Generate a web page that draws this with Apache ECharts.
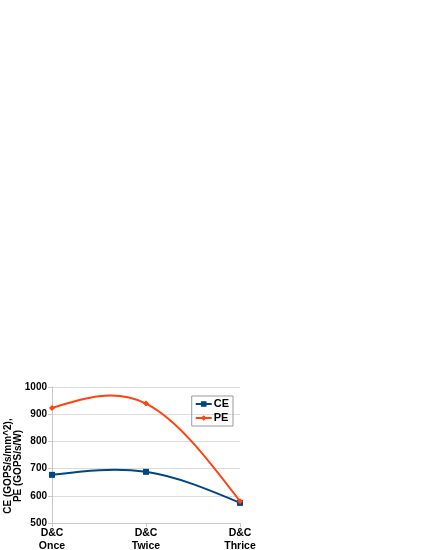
<!DOCTYPE html>
<html>
<head>
<meta charset="utf-8">
<script src="https://cdn.jsdelivr.net/npm/echarts@6/dist/echarts.min.js"></script>
<style>
  html, body { margin: 0; padding: 0; background: #fff; }
  #chart { width: 425px; height: 550px; }
</style>
</head>
<body>
<div id="chart"></div>
<script>
const categories = ["D&C\nOnce", "D&C\nTwice", "D&C\nThrice"]
const ceValues = [677, 688, 574]
const peValues = [923, 939, 580]
const yTicks = { min: 500, max: 1000, interval: 100 }

const font = "Liberation Sans"
const colors = ["#004586", "#ff420e"]

// natural cubic spline through pixel points, returns slope at each point
function splineSlopes(pts) {
  const n = pts.length
  const h = []
  for (let i = 0; i < n - 1; i++) h.push(pts[i + 1][0] - pts[i][0])
  const M = new Array(n).fill(0)
  if (n > 2) {
    // tridiagonal solve for inner second derivatives
    const a = [], b = [], c = [], d = []
    for (let i = 1; i < n - 1; i++) {
      a.push(h[i - 1])
      b.push(2 * (h[i - 1] + h[i]))
      c.push(h[i])
      d.push(6 * ((pts[i + 1][1] - pts[i][1]) / h[i] - (pts[i][1] - pts[i - 1][1]) / h[i - 1]))
    }
    const m = b.length
    for (let i = 1; i < m; i++) {
      const w = a[i] / b[i - 1]
      b[i] -= w * c[i - 1]
      d[i] -= w * d[i - 1]
    }
    const x = new Array(m)
    x[m - 1] = d[m - 1] / b[m - 1]
    for (let i = m - 2; i >= 0; i--) x[i] = (d[i] - c[i] * x[i + 1]) / b[i]
    for (let i = 0; i < m; i++) M[i + 1] = x[i]
  }
  const s = []
  for (let i = 0; i < n; i++) {
    if (i < n - 1) {
      s.push((pts[i + 1][1] - pts[i][1]) / h[i] - h[i] * (2 * M[i] + M[i + 1]) / 6)
    } else {
      s.push((pts[i][1] - pts[i - 1][1]) / h[i - 1] + h[i - 1] * (M[i - 1] + 2 * M[i]) / 6)
    }
  }
  return s
}

function splineSeries(name, values, color) {
  return {
    name: name + " curve",
    type: "custom",
    z: 1,
    silent: true,
    data: values.map((v, i) => [i, v]),
    renderItem(params, api) {
      const i = params.dataIndex
      if (i >= values.length - 1) return null
      const pts = values.map((v, j) => api.coord([j, v]))
      const s = splineSlopes(pts)
      const p0 = pts[i], p1 = pts[i + 1]
      const h = (p1[0] - p0[0]) / 3
      return {
        type: "bezierCurve",
        shape: {
          x1: p0[0], y1: p0[1],
          x2: p1[0], y2: p1[1],
          cpx1: p0[0] + h, cpy1: p0[1] + s[i] * h,
          cpx2: p1[0] - h, cpy2: p1[1] - s[i + 1] * h,
        },
        style: { stroke: color, lineWidth: 2, fill: null },
      }
    },
  }
}

const chart = echarts.init(document.getElementById("chart"))
const option = {
  animation: false,
  color: colors,
  textStyle: { fontFamily: font },
  grid: { left: 52, right: 185, top: 387, bottom: 27, outerBoundsMode: "none", containLabel: false },
  legend: {
    right: 192,
    top: 396,
    orient: "vertical",
    itemGap: 2,
    itemWidth: 16,
    itemHeight: 7,
    padding: [2, 4, 2, 3],
    borderColor: "#999",
    borderWidth: 1,
    textStyle: { fontFamily: font, fontWeight: "bold", fontSize: 11, lineHeight: 12, color: "#000", padding: [0, 0, 0, -3] },
    data: [
      { name: "CE", lineStyle: { opacity: 1, width: 2 } },
      { name: "PE", lineStyle: { opacity: 1, width: 2 } },
    ],
  },
  xAxis: {
    type: "category",
    boundaryGap: false,
    data: categories,
    axisLine: { lineStyle: { color: "#c8c8c8" } },
    axisTick: { show: true, length: 4, lineStyle: { color: "#c8c8c8" } },
    axisLabel: { color: "#000", fontWeight: "bold", fontSize: 10.5, lineHeight: 13, margin: 4 },
    splitLine: { show: false },
  },
  yAxis: {
    type: "value",
    min: yTicks.min,
    max: yTicks.max,
    interval: yTicks.interval,
    name: "CE (GOPS/s/mm^2),\nPE (GOPS/s/W)",
    nameLocation: "middle",
    nameGap: 29,
    nameMoveOverlap: false,
    nameTextStyle: { color: "#000", fontWeight: "bold", fontSize: 10, lineHeight: 10, padding: [0, 22, 0, 0] },
    axisLine: { show: true, lineStyle: { color: "#c8c8c8" } },
    axisTick: { show: true, length: 4, lineStyle: { color: "#c8c8c8" } },
    axisLabel: { color: "#000", fontWeight: "bold", fontSize: 10, margin: 5, formatter: (v) => String(v) },
    splitLine: { lineStyle: { color: "#dcdcdc" } },
  },
  series: [
    splineSeries("CE", ceValues, colors[0]),
    splineSeries("PE", peValues, colors[1]),
    {
      name: "CE",
      type: "line",
      data: ceValues,
      symbol: "rect",
      symbolSize: 6,
      z: 3,
      lineStyle: { width: 2, opacity: 0 },
    },
    {
      name: "PE",
      type: "line",
      data: peValues,
      symbol: "diamond",
      symbolSize: 6,
      z: 3,
      lineStyle: { width: 2, opacity: 0 },
    },
  ],
}
chart.setOption(option)
</script>
</body>
</html>
